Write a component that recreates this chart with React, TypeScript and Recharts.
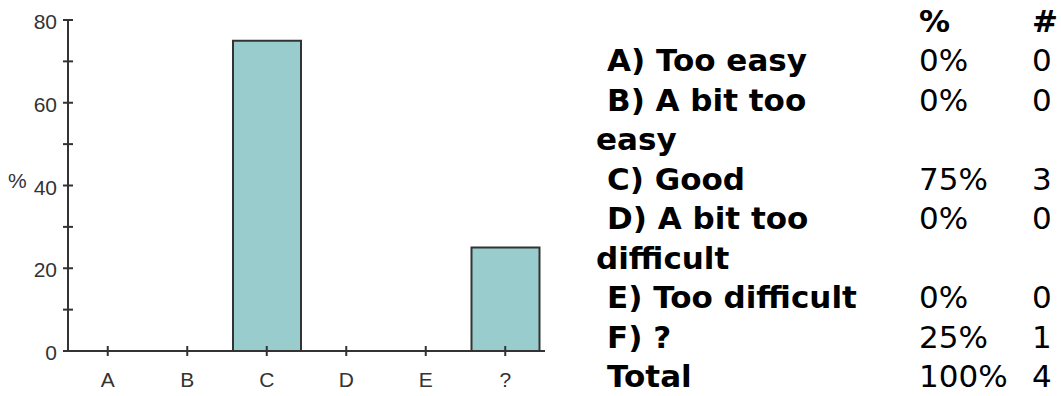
import { BarChart, Bar, XAxis, YAxis } from "recharts";

const categories = ["A", "B", "C", "D", "E", "?"];
const percents = [0, 0, 75, 0, 0, 25];
const labels = [
  "A) Too easy",
  "B) A bit too easy",
  "C) Good",
  "D) A bit too difficult",
  "E) Too difficult",
  "F) ?",
];
const counts = [0, 0, 3, 0, 0, 1];
const yTicks = [0, 10, 20, 30, 40, 50, 60, 70, 80];

const AXIS = "#333";
const TICK_FONT = "'Liberation Sans', Arial, sans-serif";

const data = categories.map((name, i) => ({ name, value: percents[i] }));

function XTick({ x, y, payload }: any) {
  return (
    <g>
      <line x1={x} x2={x} y1={y - 5} y2={y + 5} stroke={AXIS} strokeWidth={2} />
      <text
        x={x}
        y={y + 36}
        textAnchor="middle"
        fontSize={21}
        fontFamily={TICK_FONT}
        fill="#333"
      >
        {payload.value}
      </text>
    </g>
  );
}

function YTick({ x, y, payload }: any) {
  return (
    <g>
      <line x1={x - 5} x2={x + 5} y1={y} y2={y} stroke={AXIS} strokeWidth={2} />
      {payload.value % 20 === 0 && (
        <text
          x={x - 11}
          y={y + 9}
          textAnchor="end"
          fontSize={21}
          fontFamily={TICK_FONT}
          fill="#333"
        >
          {payload.value}
        </text>
      )}
    </g>
  );
}

const LINE = 39.55;
const cell = { height: LINE, lineHeight: `${LINE}px` };

export default function App() {
  const total = counts.reduce((a, b) => a + b, 0);
  const totalPct = percents.reduce((a, b) => a + b, 0);

  return (
    <div
      style={{
        position: "absolute",
        left: 0,
        top: 0,
        width: 1061,
        height: 396,
        background: "#fff",
        overflow: "hidden",
      }}
    >
      <BarChart
        width={560}
        height={396}
        data={data}
        margin={{ top: 20, right: 15, left: 0, bottom: 0 }}
      >
        <XAxis
          dataKey="name"
          height={45}
          tickLine={false}
          tickSize={0}
          tickMargin={0}
          axisLine={{ stroke: AXIS, strokeWidth: 2 }}
          tick={<XTick />}
          interval={0}
        />
        <YAxis
          width={68}
          domain={[0, 80]}
          ticks={yTicks}
          interval={0}
          tickLine={false}
          tickSize={0}
          tickMargin={0}
          axisLine={{ stroke: AXIS, strokeWidth: 2 }}
          tick={<YTick />}
          label={{
            value: "%",
            position: "insideLeft",
            offset: 8,
            dy: -5,
            fontSize: 21,
            fontFamily: TICK_FONT,
            fill: "#333",
          }}
        />
        <Bar
          dataKey="value"
          fill="#99CCCC"
          stroke="#333"
          strokeWidth={2}
          barSize={68}
          isAnimationActive={false}
        />
      </BarChart>

      {/* Answer table */}
      <div
        style={{
          position: "absolute",
          left: 596,
          top: 1.5,
          display: "grid",
          gridTemplateColumns: "323px 113px 40px",
          fontFamily: "'DejaVu Sans', sans-serif",
          fontSize: 31,
          color: "#000",
          lineHeight: `${LINE}px`,
        }}
      >
        <div style={cell} />
        <div style={{ ...cell, fontWeight: "bold" }}>%</div>
        <div style={{ ...cell, fontWeight: "bold" }}>#</div>
        {labels.map((label, i) => (
          <div key={label} style={{ display: "contents" }}>
            <div style={{ fontWeight: "bold", textIndent: 11, paddingRight: 23 }}>
              {label}
            </div>
            <div>{percents[i]}%</div>
            <div>{counts[i]}</div>
          </div>
        ))}
        <div style={{ fontWeight: "bold", textIndent: 11 }}>Total</div>
        <div>{totalPct}%</div>
        <div>{total}</div>
      </div>
    </div>
  );
}
